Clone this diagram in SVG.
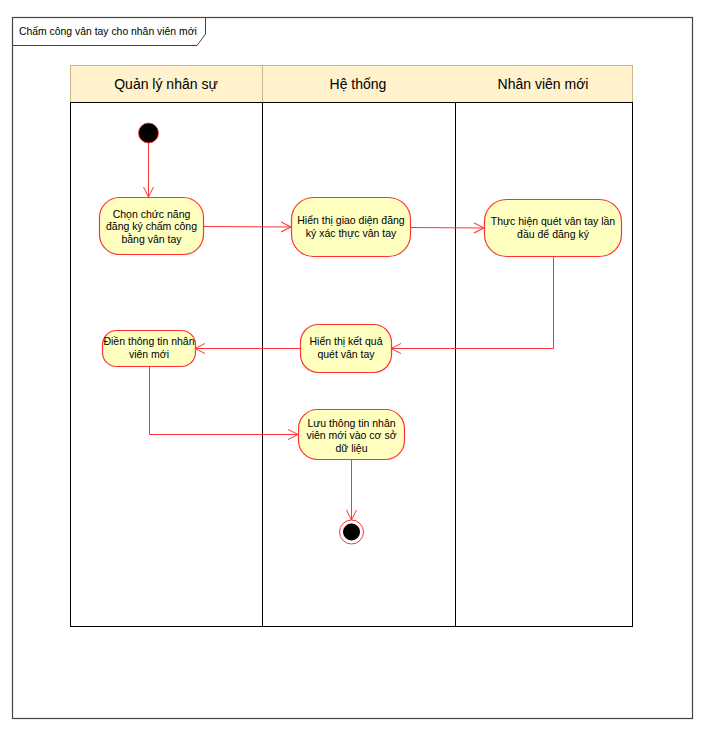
<svg xmlns="http://www.w3.org/2000/svg" width="713" height="732" viewBox="0 0 713 732">
<defs>
<style>
.frame{fill:#fff;stroke:#444;stroke-width:1.2}
.lane{fill:none;stroke:#000;stroke-width:1}
.hdr{fill:#fff2cc;stroke:#c8b88a;stroke-width:1}
.hdrt{font-family:"Liberation Sans",Arial,sans-serif;font-size:14px;fill:#000;text-anchor:middle}
.node{fill:#ffffc0;stroke:#ff3333;stroke-width:1.2}
.nt{font-family:"Liberation Sans",Arial,sans-serif;font-size:10.5px;fill:#000;text-anchor:middle}
.edge{fill:none;stroke:#ff3333;stroke-width:1}
.title{font-family:"Liberation Sans",Arial,sans-serif;font-size:10.4px;fill:#000}
</style>
<marker id="arr" markerWidth="12" markerHeight="12" refX="10" refY="5" orient="auto" markerUnits="userSpaceOnUse" viewBox="0 0 12 10">
<path d="M0,0 L10,5 L0,10" fill="none" stroke="#ff3333" stroke-width="1"/>
</marker>
</defs>
<g id="frame">
<rect class="frame" x="12.5" y="17.5" width="680" height="701"/>
<path d="M12.5,45.5 H197 L205.5,34 V17.5" fill="none" stroke="#444" stroke-width="1"/>
<text class="title" x="19" y="35">Chấm công vân tay cho nhân viên mới</text>
</g>
<g id="lanes">
<rect class="hdr" x="70.5" y="65.5" width="562" height="37"/>
<line class="lane" x1="70.5" y1="102.5" x2="632.5" y2="102.5"/>
<rect class="lane" x="70.5" y="102.5" width="562" height="524"/>
<line x1="262.5" y1="65.5" x2="262.5" y2="102.5" stroke="#c8b88a"/>
<line class="lane" x1="262.5" y1="102.5" x2="262.5" y2="626.5"/>
<line class="lane" x1="455.5" y1="102.5" x2="455.5" y2="626.5"/>
<text class="hdrt" x="166" y="89">Quản lý nhân sự</text>
<text class="hdrt" x="358" y="89">Hệ thống</text>
<text class="hdrt" x="543" y="89">Nhân viên mới</text>
</g>
<g id="connectors">
<line class="edge" x1="148.5" y1="143" x2="148.5" y2="197" marker-end="url(#arr)"/>
<line class="edge" x1="203" y1="226.5" x2="291" y2="227" marker-end="url(#arr)"/>
<line class="edge" x1="410" y1="227.5" x2="484" y2="228" marker-end="url(#arr)"/>
<polyline class="edge" points="553.5,256 553.5,348.5 391,348.5" marker-end="url(#arr)"/>
<line class="edge" x1="300" y1="348.5" x2="195" y2="348.5" marker-end="url(#arr)"/>
<polyline class="edge" points="149.5,366 149.5,434.5 298,434.5" marker-end="url(#arr)"/>
<line class="edge" x1="351.5" y1="459" x2="351.5" y2="520" marker-end="url(#arr)"/>
</g>
<g id="start">
<circle cx="148.5" cy="133" r="10" fill="#000" stroke="#ff3333" stroke-width="0.8"/>
</g>
<g id="n1">
<rect class="node" x="99.5" y="197.5" width="104" height="57" rx="20"/>
<text class="nt" x="151.5" y="218">Chọn chức năng</text>
<text class="nt" x="151.5" y="230">đăng ký chấm công</text>
<text class="nt" x="151.5" y="243">bằng vân tay</text>
</g>
<g id="n2">
<rect class="node" x="291.5" y="197.5" width="119" height="59" rx="22"/>
<text class="nt" x="351" y="224">Hiển thị giao diện đăng</text>
<text class="nt" x="351" y="237">ký xác thực vân tay</text>
</g>
<g id="n3">
<rect class="node" x="484.5" y="199.5" width="137" height="57" rx="22"/>
<text class="nt" x="553" y="225">Thực hiện quét vân tay lần</text>
<text class="nt" x="553" y="238">đầu để đăng ký</text>
</g>
<g id="n4">
<rect class="node" x="102.5" y="330.5" width="93" height="36" rx="14"/>
<text class="nt" x="149" y="345">Điền thông tin nhân</text>
<text class="nt" x="149" y="358">viên mới</text>
</g>
<g id="n5">
<rect class="node" x="300.5" y="324.5" width="91" height="48" rx="18"/>
<text class="nt" x="346" y="345">Hiển thị kết quả</text>
<text class="nt" x="346" y="358">quét vân tay</text>
</g>
<g id="n6">
<rect class="node" x="298.5" y="409.5" width="106" height="50" rx="19"/>
<text class="nt" x="351.5" y="427">Lưu thông tin nhân</text>
<text class="nt" x="351.5" y="439">viên mới vào cơ sở</text>
<text class="nt" x="351.5" y="452">dữ liệu</text>
</g>
<g id="end">
<circle cx="351.5" cy="532" r="12" fill="#fff" stroke="#ff3333" stroke-width="1"/>
<circle cx="351.5" cy="532" r="8.5" fill="#000"/>
</g>
</svg>
